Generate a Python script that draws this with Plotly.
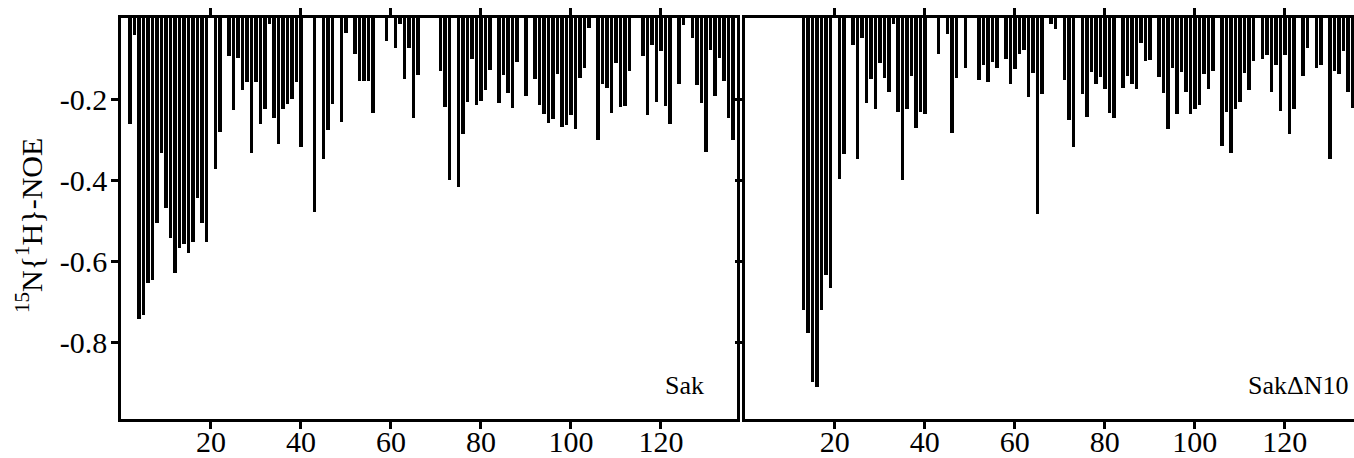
import plotly.graph_objects as go

# ---- data ----
sak_res = [2, 3, 4, 5, 6, 7, 8, 9, 10, 11, 12, 13, 14, 15, 16, 17, 18, 19, 21, 22,
           24, 25, 26, 27, 28, 29, 30, 31, 32, 33, 34, 35, 36, 37, 38, 39, 40, 43, 45, 46,
           47, 49, 50, 52, 53, 54, 55, 56, 59, 61, 62, 63, 64, 65, 66, 71, 72, 73, 75, 76,
           77, 78, 79, 80, 81, 82, 84, 85, 86, 87, 88, 90, 92, 93, 94, 95, 96, 97, 98, 99,
           100, 101, 102, 103, 104, 106, 107, 108, 109, 110, 111, 112, 113, 116, 117, 118, 119, 120, 121, 122,
           124, 125, 127, 128, 129, 130, 131, 132, 133, 134, 135, 136]
sak_noe = [-0.262, -0.043, -0.744, -0.732, -0.653, -0.648, -0.507, -0.333, -0.470, -0.542,
           -0.629, -0.567, -0.557, -0.579, -0.552, -0.444, -0.507, -0.553, -0.374, -0.281,
           -0.095, -0.227, -0.098, -0.178, -0.157, -0.333, -0.157, -0.261, -0.224, -0.016,
           -0.246, -0.310, -0.224, -0.212, -0.199, -0.157, -0.318, -0.478, -0.347, -0.276,
           -0.212, -0.256, -0.036, -0.090, -0.156, -0.156, -0.156, -0.234, -0.058, -0.073,
           -0.014, -0.150, -0.073, -0.246, -0.141, -0.131, -0.220, -0.400, -0.417, -0.286,
           -0.207, -0.100, -0.215, -0.205, -0.178, -0.128, -0.209, -0.141, -0.184, -0.221,
           -0.108, -0.192, -0.150, -0.215, -0.236, -0.258, -0.249, -0.139, -0.268, -0.265,
           -0.240, -0.275, -0.147, -0.123, -0.024, -0.302, -0.164, -0.174, -0.234, -0.110,
           -0.219, -0.217, -0.130, -0.095, -0.239, -0.066, -0.207, -0.081, -0.217, -0.261,
           -0.162, -0.017, -0.049, -0.165, -0.209, -0.330, -0.080, -0.193, -0.098, -0.156,
           -0.246, -0.302]

dn10_res = [13, 14, 15, 16, 17, 18, 19, 21, 22, 24, 25, 26, 27, 28, 29, 30, 31, 32, 33, 34,
            35, 36, 37, 38, 39, 40, 43, 45, 46, 47, 49, 52, 53, 54, 55, 56, 58, 59, 60, 61,
            62, 63, 64, 65, 66, 68, 69, 71, 72, 73, 75, 76, 77, 78, 79, 80, 81, 82, 84, 85,
            86, 87, 88, 89, 90, 92, 93, 94, 95, 96, 97, 98, 99, 100, 101, 102, 103, 104, 106, 107,
            108, 109, 110, 111, 112, 113, 115, 116, 117, 118, 119, 120, 121, 122, 124, 125, 127, 128, 130, 131,
            132, 133, 134, 135]
dn10_noe = [-0.722, -0.777, -0.898, -0.910, -0.722, -0.635, -0.667, -0.397, -0.335, -0.066,
            -0.349, -0.049, -0.209, -0.150, -0.224, -0.112, -0.147, -0.182, -0.014, -0.231,
            -0.400, -0.224, -0.143, -0.272, -0.231, -0.236, -0.090, -0.039, -0.283, -0.147,
            -0.123, -0.154, -0.117, -0.157, -0.108, -0.123, -0.100, -0.162, -0.125, -0.090,
            -0.080, -0.194, -0.135, -0.485, -0.187, -0.014, -0.026, -0.154, -0.253, -0.318,
            -0.187, -0.244, -0.133, -0.164, -0.145, -0.175, -0.234, -0.248, -0.172, -0.143,
            -0.162, -0.175, -0.061, -0.106, -0.104, -0.145, -0.184, -0.275, -0.123, -0.236,
            -0.133, -0.182, -0.236, -0.224, -0.215, -0.139, -0.175, -0.131, -0.316, -0.231,
            -0.333, -0.224, -0.207, -0.135, -0.178, -0.106, -0.100, -0.091, -0.182, -0.116,
            -0.230, -0.091, -0.286, -0.224, -0.143, -0.073, -0.123, -0.116, -0.347, -0.131,
            -0.138, -0.081, -0.182, -0.221]

x_ticks = [20, 40, 60, 80, 100, 120]
y_ticks = [-0.2, -0.4, -0.6, -0.8]
y_tick_labels = ["-0.2", "-0.4", "-0.6", "-0.8"]
panel_labels = ["Sak", "Sak\u0394N10"]
y_title = "<sup>15</sup>N{<sup>1</sup>H}-NOE"

# ---- layout geometry ----
W, H = 1354, 458
ML, MR, MT, MB = 121, 0, 18, 39
PW = W - ML - MR
PH = H - MT - MB
FONT = "Liberation Serif"
FS = 30
FS_LABEL = 26


def px_x(p):
    return (p - ML) / PW


def px_y(p):
    return (H - MB - p) / PH


fig = go.Figure()
fig.add_bar(x=sak_res, y=sak_noe, xaxis="x", yaxis="y", width=0.73,
            marker=dict(color="black", line=dict(width=0)), showlegend=False)
fig.add_bar(x=dn10_res, y=dn10_noe, xaxis="x2", yaxis="y2", width=0.73,
            marker=dict(color="black", line=dict(width=0)), showlegend=False)

axis_common = dict(showline=True, linecolor="black", linewidth=2.5,
                   ticks="outside", ticklen=7, tickwidth=2.5, tickcolor="black",
                   showgrid=False, zeroline=False, automargin=False,
                   tickfont=dict(family=FONT, size=FS, color="black"))

fig.update_layout(
    template="none",
    width=W, height=H,
    margin=dict(l=ML, r=MR, t=MT, b=MB, pad=0),
    paper_bgcolor="white", plot_bgcolor="white",
    bargap=0,
    font=dict(family=FONT, size=FS, color="black"),
    xaxis=dict(domain=[0, px_x(737)], range=[0, 136.9], anchor="y",
               tickvals=x_ticks, ticktext=[str(v) for v in x_ticks],
               mirror="ticks", ticklabelstandoff=-13, **axis_common),
    yaxis=dict(domain=[0, 1], range=[-0.99, 0], anchor="x",
               tickvals=y_ticks, ticktext=y_tick_labels,
               mirror=True, ticklabelstandoff=-2, **axis_common),
    xaxis2=dict(domain=[px_x(744.7), 1], range=[0, 135.4], anchor="y2",
                tickvals=x_ticks, ticktext=[str(v) for v in x_ticks],
                mirror="ticks", ticklabelstandoff=-13, **axis_common),
    yaxis2=dict(domain=[0, 1], range=[-0.99, 0], anchor="x2",
                tickvals=y_ticks, showticklabels=False,
                mirror=False, **axis_common),
    annotations=[
        dict(text=panel_labels[0], xref="paper", yref="paper",
             x=px_x(706), y=px_y(385), xanchor="right", yanchor="middle",
             showarrow=False, font=dict(family=FONT, size=FS_LABEL, color="black")),
        dict(text=panel_labels[1], xref="paper", yref="paper",
             x=px_x(1351), y=px_y(385), xanchor="right", yanchor="middle",
             showarrow=False, font=dict(family=FONT, size=FS_LABEL, color="black")),
        dict(text=y_title, xref="paper", yref="paper",
             x=px_x(29), y=px_y(226), xanchor="center", yanchor="middle",
             textangle=-90, showarrow=False,
             font=dict(family=FONT, size=FS, color="black")),
    ],
)

fig.write_html("out.html", config={"displayModeBar": False},
               post_script="document.body.style.margin='0';document.body.style.overflow='hidden';")
